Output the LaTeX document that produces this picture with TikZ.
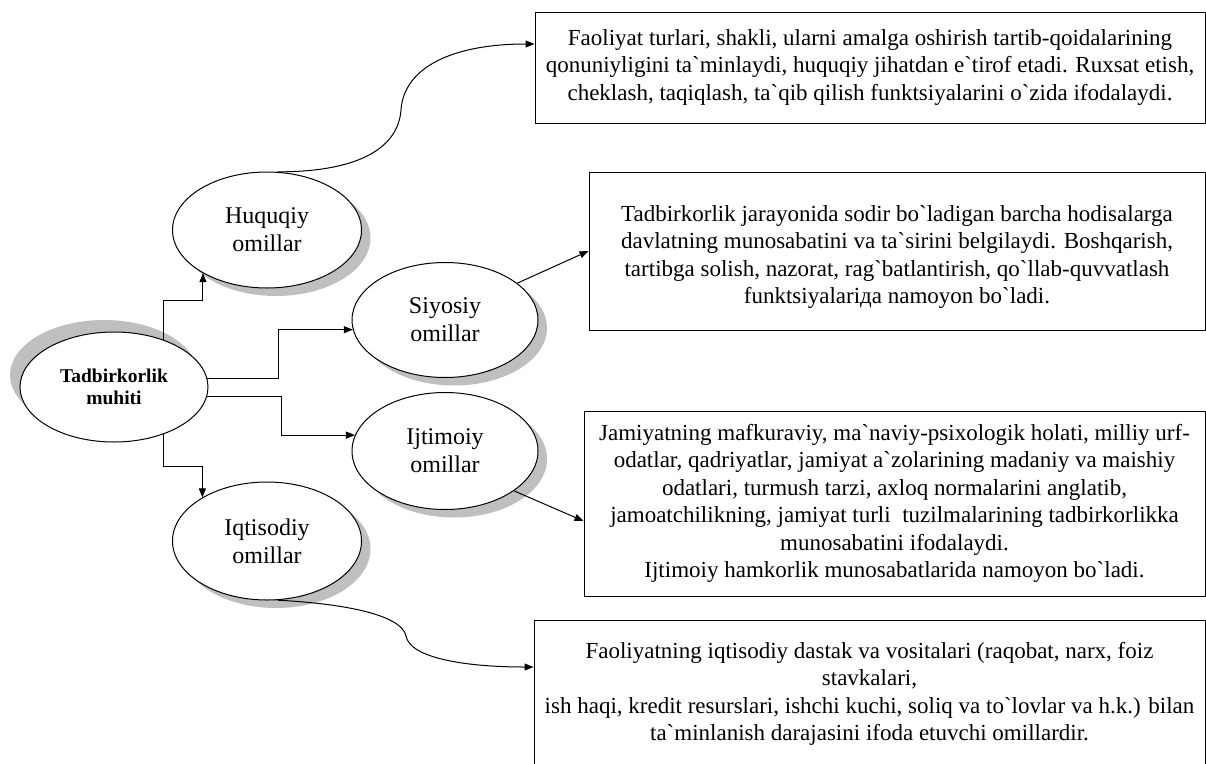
\documentclass[tikz,border=0pt]{standalone}
\usepackage{fontspec}
\setmainfont{Liberation Serif}[Ligatures=TeXOff]
\usetikzlibrary{shapes.geometric,shadows,arrows.meta}

\tikzset{
  ellips/.style={ellipse, draw, line width=1pt, fill=white, inner sep=0pt,
    minimum width=189pt, minimum height=116pt, align=center,
    font=\fontsize{24}{28}\selectfont},
  omil/.style={ellips,
    drop shadow={shadow xshift=9pt, shadow yshift=-8pt, fill=black!25, opacity=1}},
  izoh/.style={draw, line width=1pt, fill=white, inner sep=0pt, align=center,
    font=\fontsize{23}{27.5}\selectfont},
  bog/.style={line width=1pt, -{Triangle[length=9pt,width=7pt]}}
}

\begin{document}
\begin{tikzpicture}[x=1pt,y=-1pt]
\fill[white] (0,0) rectangle (1206,763);
\useasboundingbox (0,0) rectangle (1206,763);

% markaz va omillar
\node[ellips, minimum width=188pt, minimum height=110pt,
  font=\fontsize{19.5}{22}\selectfont\bfseries,
  drop shadow={shadow xshift=-10pt, shadow yshift=12pt, fill=black!25, opacity=1}]
  (tm) at (114,387) {Tadbirkorlik\\muhiti};
\node[omil] (hq) at (267,230) {Huquqiy\\omillar};
\node[omil, minimum width=186pt, minimum height=115pt] (sy) at (445,320) {Siyosiy\\omillar};
\node[omil, minimum width=186pt, minimum height=117pt] (ij) at (445,451) {Ijtimoiy\\omillar};
\node[omil, minimum height=118pt] (iq) at (267,541) {Iqtisodiy\\omillar};

% izohlar
\node[izoh, minimum width=670pt, minimum height=111pt] (b1) at (870,67.5)
  {Faoliyat turlari, shakli, ularni amalga oshirish tartib-qoidalarining\\
   qonuniyligini ta`minlaydi, huquqiy jihatdan e`tirof etadi. Ruxsat etish,\\
   cheklash, taqiqlash, ta`qib qilish funktsiyalarini o`zida ifodalaydi.};
\node[izoh, minimum width=616pt, minimum height=158pt] (b2) at (897,251)
  {\mbox{}\\
   Tadbirkorlik jarayonida sodir bo`ladigan barcha hodisalarga\\
   davlatning munosabatini va ta`sirini belgilaydi. Boshqarish,\\
   tartibga solish, nazorat, rag`batlantirish, qo`llab-quvvatlash\\
   funktsiyalariда namoyon bo`ladi.};
\node[izoh, minimum width=621pt, minimum height=185pt] (b3) at (894.5,503.5)
  {Jamiyatning mafkuraviy, ma`naviy-psixologik holati, milliy urf-\\
   odatlar, qadriyatlar, jamiyat a`zolarining madaniy va maishiy\\
   odatlari, turmush tarzi, axloq normalarini anglatib,\\
   jamoatchilikning, jamiyat turli\ \ tuzilmalarining tadbirkorlikka\\
   munosabatini ifodalaydi.\\
   Ijtimoiy hamkorlik munosabatlarida namoyon bo`ladi.};
\node[izoh, minimum width=671pt, minimum height=170pt] (b4) at (869.5,705)
  {Faoliyatning iqtisodiy dastak va vositalari (raqobat, narx, foiz\\
   stavkalari,\\
   ish haqi, kredit resurslari, ishchi kuchi, soliq va to`lovlar va h.k.) bilan\\
   ta`minlanish darajasini ifoda etuvchi omillardir.\\
   \mbox{}};

% bog'lanishlar
\draw[bog] (tm.44) -- ++(0,-39) -| (hq.214);
\draw[bog] (tm.5) -- ++(71,0) |- (sy.186);
\draw[bog] (tm.-6) -- ++(74,0) |- (ij.170);
\draw[bog] (tm.-44) -- ++(0,32) -| (iq.146);
\draw[bog] (sy.27) -- (b2.west);
\draw[bog] (ij.-30) -- ([yshift=-17.5pt]b3.west);

\coordinate (q1) at (401,110);
\coordinate (q2) at (406,636);
\draw[bog] (hq.80) .. controls (355,172) and (398,150) .. (q1)
  .. controls (404,66) and (455,44) .. ([yshift=23.5pt]b1.west);
\draw[bog] (iq.-80) .. controls (350,604) and (402,616) .. (q2)
  .. controls (410,658) and (465,667) .. ([yshift=38pt]b4.west);
\end{tikzpicture}
\end{document}
